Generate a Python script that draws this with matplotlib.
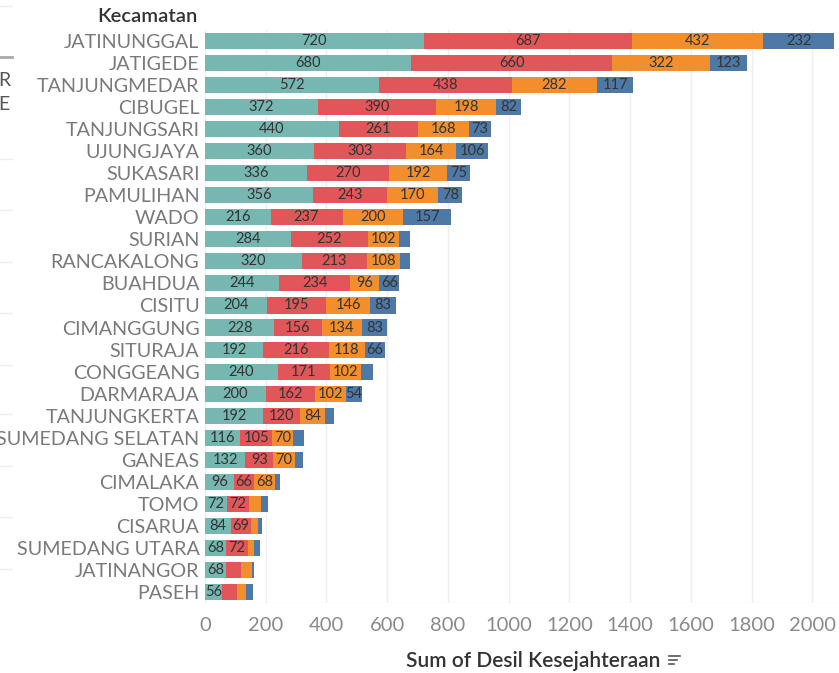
import numpy as np
import matplotlib
matplotlib.use('Agg')
import matplotlib.pyplot as plt
from matplotlib.lines import Line2D

plt.rcParams['font.family'] = ['Lato', 'DejaVu Sans']

kecamatan = ["JATINUNGGAL", "JATIGEDE", "TANJUNGMEDAR", "CIBUGEL", "TANJUNGSARI",
             "UJUNGJAYA", "SUKASARI", "PAMULIHAN", "WADO", "SURIAN", "RANCAKALONG",
             "BUAHDUA", "CISITU", "CIMANGGUNG", "SITURAJA", "CONGGEANG", "DARMARAJA",
             "TANJUNGKERTA", "SUMEDANG SELATAN", "GANEAS", "CIMALAKA", "TOMO",
             "CISARUA", "SUMEDANG UTARA", "JATINANGOR", "PASEH"]

desil1 = [720, 680, 572, 372, 440, 360, 336, 356, 216, 284, 320, 244, 204,
          228, 192, 240, 200, 192, 116, 132, 96, 72, 84, 68, 68, 56]
desil2 = [687, 660, 438, 390, 261, 303, 270, 243, 237, 252, 213, 234, 195,
          156, 216, 171, 162, 120, 105, 93, 66, 72, 69, 72, 52, 49]
desil3 = [432, 322, 282, 198, 168, 164, 192, 170, 200, 102, 108, 96, 146,
          134, 118, 102, 102, 84, 70, 70, 68, 41, 22, 20, 36, 30]
desil4 = [232, 123, 117, 82, 73, 106, 75, 78, 157, 37, 34, 66, 83,
          83, 66, 39, 54, 29, 36, 28, 18, 22, 14, 22, 4, 22]

series = [desil1, desil2, desil3, desil4]
colors = ["#76B7B2", "#E15759", "#F28E2B", "#4E79A7"]
xticks = [0, 200, 400, 600, 800, 1000, 1200, 1400, 1600, 1800, 2000]

fig = plt.figure(figsize=(8.39, 6.73), dpi=100)
ax = fig.add_axes([205/839, 1 - 603/673, 634/839, 573/673])

y = np.arange(len(kecamatan))
left = np.zeros(len(kecamatan))
for vals, color in zip(series, colors):
    vals = np.array(vals)
    ax.barh(y, vals, left=left, height=0.73, color=color, edgecolor='none', zorder=2)
    for yi, l, v in zip(y, left, vals):
        # tableau hides labels that don't fit
        if v >= 54:
            ax.text(l + v / 2, yi, str(v), ha='center', va='center',
                    fontsize=10.5, color='#333333', zorder=3)
    left = left + vals

ax.set_ylim(len(kecamatan) - 0.5, -0.5)
ax.set_xlim(0, 2088)
ax.set_yticks(y)
ax.set_yticklabels(kecamatan, fontsize=14.2, color='#7a7a7a')
ax.set_xticks(xticks)
ax.set_xticklabels([str(t) for t in xticks], fontsize=14.5, color='#8a8a8a')
ax.tick_params(axis='y', length=0, pad=4)
ax.tick_params(axis='x', length=0, pad=10)
ax.grid(True, axis='x', color='#eeeeee', linewidth=1, zorder=0)
for s in ax.spines.values():
    s.set_visible(False)
ax.axhline(len(kecamatan) - 0.5, color='#f0f0f0', linewidth=1, zorder=0)

fig.text(198/839, 1 - 16/673, "Kecamatan", ha='right', va='center',
         fontsize=14.5, fontweight='semibold', color='#333333')
fig.text(533/839, 1 - 661/673, "Sum of Desil Kesejahteraan", ha='center', va='center',
         fontsize=15, fontweight='semibold', color='#333333')

# sort icon next to axis title
for i, w in enumerate([11, 8, 5]):
    yy = 1 - (656 + i * 4) / 673
    fig.add_artist(Line2D([669/839, (669 + w)/839], [yy, yy], color='#555555', lw=1.2))

# leftover bits of the neighbouring panel
fig.add_artist(Line2D([0, 12/839], [1 - 57/673, 1 - 57/673], color='#aaaaaa', lw=2))
for yy in [6, 159, 210, 262, 313, 365, 414, 466, 517, 569]:
    fig.add_artist(Line2D([0, 12/839], [1 - yy/673, 1 - yy/673], color='#eeeeee', lw=1))
fig.text(-2/839, 1 - 81/673, "R", ha='left', va='center', fontsize=14, color='#555555')
fig.text(-2/839, 1 - 104/673, "E", ha='left', va='center', fontsize=14, color='#555555')

fig.savefig('out.png', dpi=100)
